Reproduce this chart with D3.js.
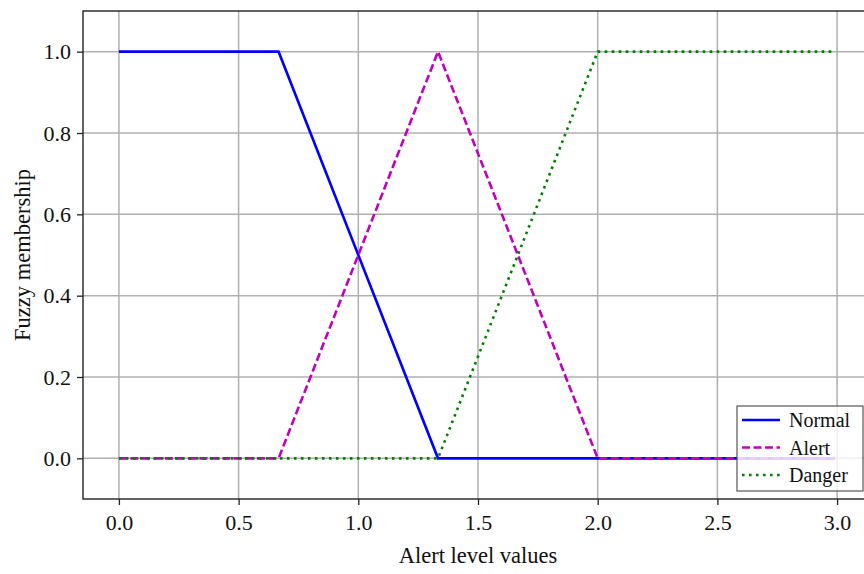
<!DOCTYPE html>
<html>
<head>
<meta charset="utf-8">
<script src="https://cdn.jsdelivr.net/npm/d3@7"></script>
<style>
  body { margin: 0; background: #fff; }
  svg { display: block; font-family: "Liberation Serif", "DejaVu Serif", serif; }
</style>
</head>
<body>
<script>
// membership breakpoints (alert level value -> membership)
var levels = [0, 0.667, 1.333, 2.0, 2.99];
var normal = [1, 1, 0, 0, 0];
var alert = [0, 0, 1, 0, 0];
var danger = [0, 0, 0, 1, 1];

var xTicks = [0, 0.5, 1.0, 1.5, 2.0, 2.5, 3.0];
var yTicks = [0, 0.2, 0.4, 0.6, 0.8, 1.0];
var seriesNames = ["Normal", "Alert", "Danger"];

var width = 864, height = 574;
var plotLeft = 83, plotRight = 873, plotTop = 11, plotBottom = 499;

var xScale = d3.scaleLinear().domain([-0.15, 3.15]).range([plotLeft, plotRight]);
var yScale = d3.scaleLinear().domain([-0.1, 1.1]).range([plotBottom, plotTop]);

var svg = d3.select("body").append("svg")
    .attr("width", width)
    .attr("height", height);

// grid
svg.append("g").selectAll("line")
  .data(xTicks).enter().append("line")
    .attr("x1", d => xScale(d)).attr("x2", d => xScale(d))
    .attr("y1", plotTop).attr("y2", plotBottom)
    .attr("stroke", "#b0b0b0").attr("stroke-width", 1.5);
svg.append("g").selectAll("line")
  .data(yTicks).enter().append("line")
    .attr("x1", plotLeft).attr("x2", plotRight)
    .attr("y1", d => yScale(d)).attr("y2", d => yScale(d))
    .attr("stroke", "#b0b0b0").attr("stroke-width", 1.5);

// series
var series = [
  { values: normal, color: "#0000ff", dash: null },
  { values: alert, color: "#bf00bf", dash: "8,3.5" },
  { values: danger, color: "#008000", dash: "2.6,4.4" }
];

var line = d3.line()
    .x(d => xScale(d[0]))
    .y(d => yScale(d[1]));

series.forEach(function(s) {
  svg.append("path")
    .datum(levels.map((x, i) => [x, s.values[i]]))
    .attr("d", line)
    .attr("fill", "none")
    .attr("stroke", s.color)
    .attr("stroke-width", 2.6)
    .attr("stroke-dasharray", s.dash);
});

// axes
var xAxis = svg.append("g")
    .attr("transform", "translate(0," + plotBottom + ")")
    .call(d3.axisBottom(xScale).tickValues(xTicks).tickFormat(d3.format(".1f")).tickSize(6).tickPadding(9));
var yAxis = svg.append("g")
    .attr("transform", "translate(" + plotLeft + ",0)")
    .call(d3.axisLeft(yScale).tickValues(yTicks).tickFormat(d3.format(".1f")).tickSize(6).tickPadding(6));

[xAxis, yAxis].forEach(function(a) {
  a.select(".domain").remove();
  a.selectAll(".tick line").attr("stroke", "#222").attr("stroke-width", 1.3);
  a.selectAll(".tick text")
    .attr("fill", "#111")
    .style("font-size", "22px")
    .style("font-family", "Liberation Serif, serif");
});

// spines
svg.append("rect")
    .attr("x", plotLeft).attr("y", plotTop)
    .attr("width", plotRight - plotLeft).attr("height", plotBottom - plotTop)
    .attr("fill", "none")
    .attr("stroke", "#222")
    .attr("stroke-width", 1.4);

// axis labels
svg.append("text")
    .attr("x", (plotLeft + plotRight) / 2)
    .attr("y", 563)
    .attr("text-anchor", "middle")
    .style("font-size", "22.5px")
    .attr("fill", "#111")
    .text("Alert level values");

svg.append("text")
    .attr("transform", "rotate(-90)")
    .attr("x", -(plotTop + plotBottom) / 2)
    .attr("y", 30)
    .attr("text-anchor", "middle")
    .style("font-size", "22.5px")
    .attr("fill", "#111")
    .text("Fuzzy membership");

// legend
var legend = svg.append("g");
legend.append("rect")
    .attr("x", 737).attr("y", 406)
    .attr("width", 126).attr("height", 85)
    .attr("fill", "#fff").attr("fill-opacity", 0.8)
    .attr("stroke", "#555").attr("stroke-width", 1.2);

series.forEach(function(s, i) {
  var ly = 420 + i * 27.5;
  legend.append("line")
    .attr("x1", 742).attr("x2", 780)
    .attr("y1", ly).attr("y2", ly)
    .attr("stroke", s.color)
    .attr("stroke-width", 2.6)
    .attr("stroke-dasharray", s.dash);
  legend.append("text")
    .attr("x", 789).attr("y", ly)
    .attr("dy", "0.35em")
    .style("font-size", "20px")
    .attr("fill", "#111")
    .text(seriesNames[i]);
});
</script>
</body>
</html>
